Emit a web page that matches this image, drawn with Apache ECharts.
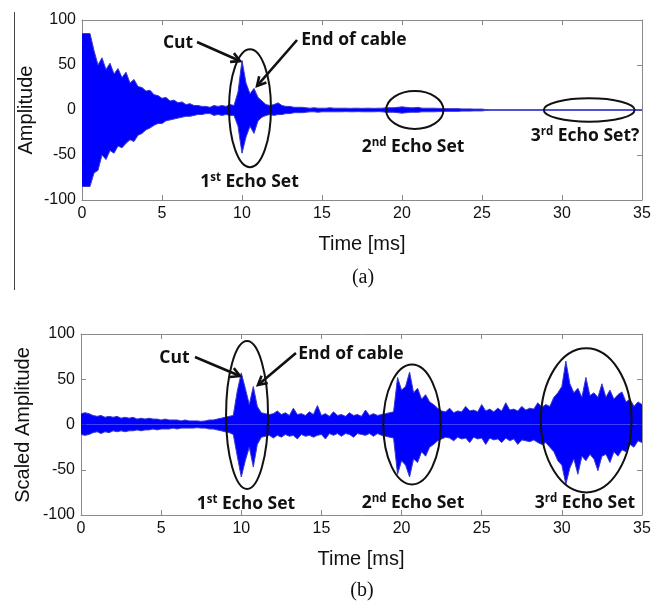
<!DOCTYPE html>
<html>
<head>
<meta charset="utf-8">
<script src="https://cdn.jsdelivr.net/npm/echarts@6/dist/echarts.min.js"></script>
<style>
html,body{margin:0;padding:0;background:#fff;}
#chart{width:662px;height:604px;}
</style>
</head>
<body>
<div id="chart"></div>
<script>
// Sample spacing of the envelope readings (ms)
const STEP = 0.25;
const X_TICKS = [0, 5, 10, 15, 20, 25, 30, 35];
const Y_TICKS = [-100, -50, 0, 50, 100];

// (a) raw amplitude: upper / lower envelope read every 0.25 ms from 0 to 35 ms
const topHi = [
  85,85,85,66,50,58,45,52,
  40,46,36,42,30,34,26,25,
  21,22,17,16,13,14,10,11,
  8,9,6,7,5,5,4,4,
  3,5,4,5,4,6,5,20,
  55,30,18,24,14,10,6,5,
  6,8,5,4,4,3,3,3,
  2.5,2,2.5,2,2,2,2.5,2,
  2,2,2,1.8,2,2,1.8,2,
  2,1.8,2,2,2.5,2.5,2.5,3,
  3.5,3,2.5,2.5,3,2,2,2,
  2,1.8,1.8,1.5,1.5,1.5,1.5,1.2,
  1.2,1.2,1,1,1,0.5,0.3,0.3,
  0.3,0.3,0.3,0.3,0.3,0.3,0.3,0.3,
  0.3,0.3,0.3,0.3,0.3,0.3,0.3,0.3,
  0.3,0.3,0.3,0.3,0.3,0.3,0.3,0.3,
  0.3,0.3,0.3,0.3,0.3,0.3,0.3,0.3,
  0.3,0.3,0.3,0.3,0.3
];
const topLo = [
  -85,-85,-85,-70,-67,-50,-55,-45,
  -48,-40,-42,-37,-33,-35,-28,-26,
  -22,-20,-17,-15,-15,-12,-11,-10,
  -9,-8,-7,-7,-6,-5,-5,-4,
  -4,-6,-5,-6,-5,-6,-6,-18,
  -48,-30,-18,-26,-12,-8,-6,-5,
  -6,-5,-5,-4,-4,-3,-3,-3,
  -2.5,-2,-2,-2.5,-2,-2,-2,-2,
  -2,-2,-1.8,-2,-2,-1.8,-2,-2,
  -2,-2,-1.8,-2,-2.5,-2.5,-2.5,-3,
  -3.5,-3,-2.5,-2.5,-2.5,-2,-2,-2,
  -2,-1.8,-1.8,-1.5,-1.5,-1.5,-1.5,-1.2,
  -1.2,-1.2,-1,-1,-1,-0.5,-0.3,-0.3,
  -0.3,-0.3,-0.3,-0.3,-0.3,-0.3,-0.3,-0.3,
  -0.3,-0.3,-0.3,-0.3,-0.3,-0.3,-0.3,-0.3,
  -0.3,-0.3,-0.3,-0.3,-0.3,-0.3,-0.3,-0.3,
  -0.3,-0.3,-0.3,-0.3,-0.3,-0.3,-0.3,-0.3,
  -0.3,-0.3,-0.3,-0.3,-0.3
];

// (b) scaled amplitude: upper / lower envelope every 0.25 ms
const botHi = [
  12,13,12,10,9,10,8,9,
  8,9,7,8,7,8,6,7,
  6,7,6,6,5,6,5,5,
  5,4,5,4,4,4,3.5,4,
  5,5,6,7,8,9,10,37,
  57,40,22,42,20,13,12,11,
  12,15,11,13,10,18,11,12,
  10,14,11,21,10,12,9,14,
  10,11,9,13,10,11,9,16,
  10,12,10,11,12,13,14,52,
  38,42,58,35,40,28,33,25,
  22,18,15,14,18,13,15,14,
  20,15,16,14,22,15,17,14,
  18,15,24,16,17,15,20,16,
  18,17,24,19,22,20,30,35,
  42,70,45,35,40,30,52,32,
  35,30,45,30,38,28,33,36,
  25,28,20,25,22
];
const botLo = [
  -11,-12,-11,-9,-8,-10,-8,-9,
  -7,-8,-7,-8,-7,-7,-6,-7,
  -6,-6,-5,-6,-5,-5,-5,-4,
  -5,-4,-4,-4,-4,-3.5,-4,-4,
  -5,-5,-6,-7,-8,-9,-11,-35,
  -58,-40,-25,-47,-22,-14,-13,-12,
  -15,-12,-14,-11,-13,-12,-16,-11,
  -13,-12,-14,-12,-11,-16,-10,-12,
  -10,-13,-10,-11,-14,-10,-11,-12,
  -10,-13,-10,-12,-13,-14,-15,-55,
  -40,-45,-58,-38,-42,-30,-35,-25,
  -22,-18,-16,-14,-15,-18,-14,-16,
  -15,-20,-14,-16,-15,-22,-15,-17,
  -16,-20,-15,-18,-16,-22,-17,-18,
  -19,-17,-20,-22,-20,-25,-30,-40,
  -45,-66,-48,-38,-55,-35,-40,-33,
  -38,-51,-35,-33,-42,-30,-35,-28,
  -30,-22,-25,-18,-20
];

// Annotations in data units [time, amplitude]
const topEllipses = [ {c:[10.5,2], r:[1.31,65.6]}, {c:[20.8,0], r:[1.79,21]}, {c:[31.7,0], r:[2.84,13]} ];
const botEllipses = [ {c:[10.36,10.5], r:[1.31,81.8]}, {c:[20.65,0], r:[1.79,66.3]}, {c:[31.52,4.6], r:[2.83,79.6]} ];
const topArrows = [ {from:[7.19,75.6], to:[9.875,54.4]}, {from:[13.44,77.8], to:[10.94,26.7]} ];
const botArrows = [ {from:[7.11,74.6], to:[9.92,53.6]}, {from:[13.41,79], to:[11.04,43.6]} ];
const topLabels = [
  {p:[6.0,74.4], t:'{a|Cut}'},
  {p:[17.0,77.8], t:'{a|End of cable}'},
  {p:[10.47,-80], t:'{a|1}{s|st}{a| Echo Set}'},
  {p:[20.69,-41], t:'{a|2}{s|nd}{a| Echo Set}'},
  {p:[31.44,-28.9], t:'{a|3}{s|rd}{a| Echo Set?}'}
];
const botLabels = [
  {p:[5.83,73.5], t:'{a|Cut}'},
  {p:[16.84,77.9], t:'{a|End of cable}'},
  {p:[10.29,-87.8], t:'{a|1}{s|st}{a| Echo Set}'},
  {p:[20.71,-86.7], t:'{a|2}{s|nd}{a| Echo Set}'},
  {p:[31.44,-86.7], t:'{a|3}{s|rd}{a| Echo Set}'}
];

const toPairs = arr => arr.map((v, i) => [i * STEP, v]);

const chart = echarts.init(document.getElementById('chart'), null, {renderer: 'canvas'});

const AX = '#8a8a8a';
const LABEL_FONT = 'Liberation Sans';
function xAx(grid, pos, labels) {
  return {
    type: 'value', gridIndex: grid, position: pos, min: 0, max: 35, interval: 5,
    axisLine: {show: true, onZero: false, lineStyle: {color: AX, width: 1}},
    axisTick: {show: true, inside: true, length: 5, lineStyle: {color: AX}},
    axisLabel: {show: labels, color: '#111', fontSize: 16, fontFamily: LABEL_FONT, margin: 6},
    splitLine: {show: false}
  };
}
function yAx(grid, pos, labels) {
  return {
    type: 'value', gridIndex: grid, position: pos, min: -100, max: 100, interval: 50,
    axisLine: {show: true, onZero: false, lineStyle: {color: AX, width: 1}},
    axisTick: {show: true, inside: true, length: 5, lineStyle: {color: AX}},
    axisLabel: {show: labels, color: '#111', fontSize: 16, fontFamily: LABEL_FONT, margin: 6},
    splitLine: {show: false}
  };
}
function sig(xi, yi, data) {
  return {
    type: 'line', xAxisIndex: xi, yAxisIndex: yi, data: toPairs(data),
    showSymbol: false, symbol: 'none', smooth: false, sampling: null,
    lineStyle: {color: '#3a3ad0', width: 1},
    areaStyle: {color: '#0000ff', opacity: 1, origin: 'auto'},
    z: 2, animation: false
  };
}

chart.setOption({
  animation: false,
  backgroundColor: '#fff',
  grid: [
    {left: 82, top: 20, width: 560, height: 180},
    {left: 81, top: 334, width: 561, height: 181}
  ],
  xAxis: [xAx(0, 'bottom', true), xAx(0, 'top', false), xAx(1, 'bottom', true), xAx(1, 'top', false)],
  yAxis: [yAx(0, 'left', true), yAx(0, 'right', false), yAx(1, 'left', true), yAx(1, 'right', false)],
  series: [sig(0, 0, topHi), sig(0, 0, topLo), sig(2, 2, botHi), sig(2, 2, botLo)]
});

function buildGraphics() {
  const g = [];
  const NAME_FONT = '20px "Liberation Sans"';
  g.push({type: 'line', shape: {x1: 14.5, y1: 12, x2: 14.5, y2: 290}, style: {stroke: '#444', lineWidth: 1}});
  g.push({type: 'text', x: 362, y: 244, style: {text: 'Time [ms]', font: NAME_FONT, fill: '#111', align: 'center', verticalAlign: 'middle'}});
  g.push({type: 'text', x: 361, y: 559, style: {text: 'Time [ms]', font: NAME_FONT, fill: '#111', align: 'center', verticalAlign: 'middle'}});
  g.push({type: 'text', x: 26, y: 110, rotation: Math.PI / 2, style: {text: 'Amplitude', font: NAME_FONT, fill: '#111', align: 'center', verticalAlign: 'middle'}});
  g.push({type: 'text', x: 23, y: 425, rotation: Math.PI / 2, style: {text: 'Scaled Amplitude', font: NAME_FONT, fill: '#111', align: 'center', verticalAlign: 'middle'}});
  g.push({type: 'text', x: 363, y: 278, style: {text: '(a)', font: '20px "Liberation Serif"', fill: '#111', align: 'center', verticalAlign: 'middle'}});
  g.push({type: 'text', x: 362, y: 591, style: {text: '(b)', font: '20px "Liberation Serif"', fill: '#111', align: 'center', verticalAlign: 'middle'}});

  const rich = {
    a: {fontFamily: 'Open Sans', fontWeight: 'bold', fontSize: 17.5, lineHeight: 21, fill: '#111', color: '#111'},
    s: {fontFamily: 'Open Sans', fontWeight: 'bold', fontSize: 11.5, lineHeight: 12, verticalAlign: 'top', fill: '#111', color: '#111'}
  };

  function addPanel(idx, ellipses, arrows, labels) {
    const finder = {xAxisIndex: idx, yAxisIndex: idx};
    const px = p => chart.convertToPixel(finder, p);
    ellipses.forEach(e => {
      const c = px(e.c);
      const rx = px([e.c[0] + e.r[0], e.c[1]])[0] - c[0];
      const ry = c[1] - px([e.c[0], e.c[1] + e.r[1]])[1];
      g.push({type: 'ellipse', shape: {cx: c[0], cy: c[1], rx: rx, ry: ry}, style: {fill: 'none', stroke: '#111', lineWidth: 2}, z: 10});
    });
    arrows.forEach(a => {
      const f = px(a.from), t = px(a.to);
      const ang = Math.atan2(t[1] - f[1], t[0] - f[0]);
      const L = 10, w = 0.5;
      const h1 = [t[0] - L * Math.cos(ang - w), t[1] - L * Math.sin(ang - w)];
      const h2 = [t[0] - L * Math.cos(ang + w), t[1] - L * Math.sin(ang + w)];
      g.push({type: 'line', shape: {x1: f[0], y1: f[1], x2: t[0], y2: t[1]}, style: {stroke: '#111', lineWidth: 2.6}, z: 10});
      g.push({type: 'polyline', shape: {points: [h1, t, h2]}, style: {stroke: '#111', lineWidth: 2.6, fill: 'none', lineJoin: 'miter'}, z: 10});
    });
    labels.forEach(l => {
      const p = px(l.p);
      g.push({type: 'text', x: p[0], y: p[1], style: {text: l.t, rich: rich, align: 'center', verticalAlign: 'middle', fill: '#111'}, z: 11});
    });
  }
  addPanel(0, topEllipses, topArrows, topLabels);
  addPanel(2, botEllipses, botArrows, botLabels);
  return g;
}
chart.setOption({graphic: buildGraphics()});
</script>
</body>
</html>
